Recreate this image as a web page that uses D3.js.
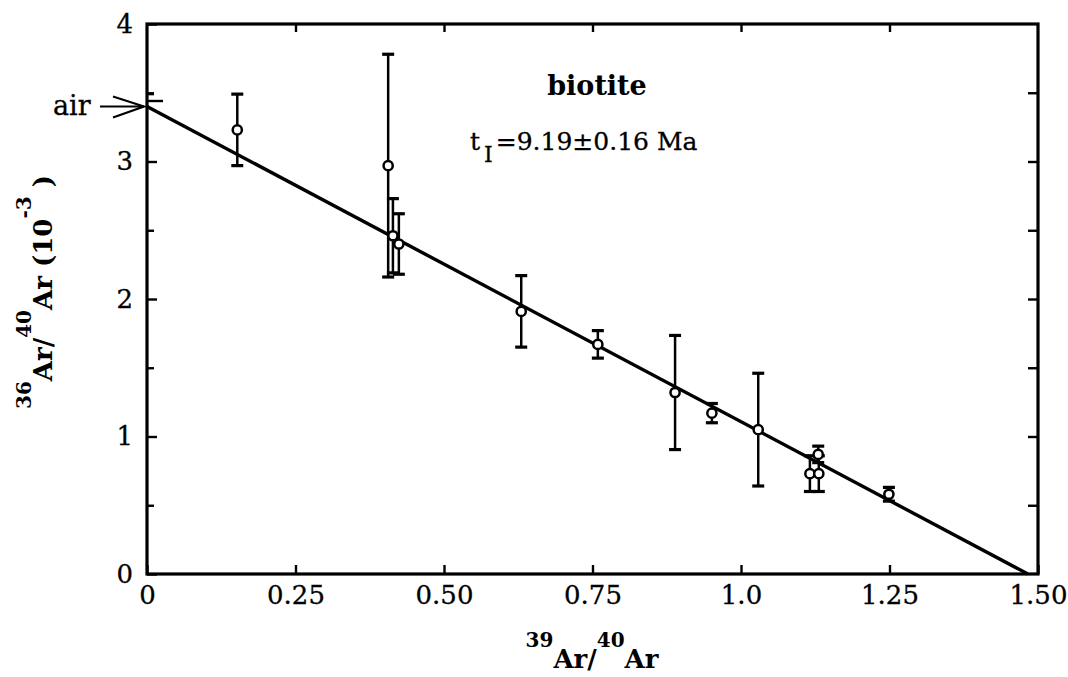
<!DOCTYPE html>
<html>
<head>
<meta charset="UTF-8">
<title>biotite isochron</title>
<style>
  body { margin: 0; background: #fff; }
  svg text { font-family: 'DejaVu Serif', serif; fill: #000; }
</style>
</head>
<body>
<svg id="chart" width="1068" height="677"></svg>
<script src="https://d3js.org/d3.v7.min.js"></script>
<script>
// 39Ar/40Ar (x) and 36Ar/40Ar x 10^-3 (y) with 1-sigma errors on y
const ratio39 = [0.152, 0.406, 0.414, 0.424, 0.630, 0.759, 0.889, 0.951, 1.029, 1.116, 1.131, 1.130, 1.249];
const ratio36 = [3.23, 2.97, 2.46, 2.40, 1.91, 1.67, 1.32, 1.17, 1.05, 0.73, 0.73, 0.87, 0.58];
const err36   = [0.26, 0.81, 0.27, 0.22, 0.26, 0.10, 0.415, 0.07, 0.41, 0.13, 0.13, 0.06, 0.05];

// isochron fit: y intercept (air) and x intercept
const fitYIntercept = 3.40;
const fitXIntercept = 1.483;
const airMarks = [3.49, 3.44];

const xTicks = [0, 0.25, 0.5, 0.75, 1.0, 1.25, 1.5];
const xTickLabels = ["0", "0.25", "0.50", "0.75", "1.0", "1.25", "1.50"];
const yTicks = [0, 1, 2, 3, 4];
const yMinorTicks = [0.5, 1.5, 2.5, 3.5];
const yRightTicks = [0.5, 1, 1.5, 2, 2.5, 3, 3.5];

const svg = d3.select("#chart");
const x = d3.scaleLinear().domain([0, 1.5]).range([147, 1038]);
const y = d3.scaleLinear().domain([0, 4]).range([574, 24]);

function styleAxis(g) {
  g.select(".domain").remove();
  g.selectAll(".tick line").attr("stroke", "#000").attr("stroke-width", 2.4);
  g.selectAll(".tick text").attr("font-family", "'DejaVu Serif', serif").attr("font-size", 26)
    .attr("fill", "#000").attr("stroke", "#000").attr("stroke-width", 0.3);
}

// bottom axis
svg.append("g")
  .attr("transform", `translate(0,${y(0)})`)
  .call(d3.axisBottom(x).tickValues(xTicks).tickSize(-9).tickPadding(12)
    .tickFormat((d, i) => xTickLabels[i]))
  .call(styleAxis);

// top axis (ticks only)
svg.append("g")
  .attr("transform", `translate(0,${y(4)})`)
  .call(d3.axisTop(x).tickValues(xTicks.slice(1, -1)).tickSize(-8).tickFormat(""))
  .call(styleAxis);

// left axis
svg.append("g")
  .attr("transform", `translate(${x(0)},0)`)
  .call(d3.axisLeft(y).tickValues(yTicks).tickSize(-10).tickPadding(14).tickFormat(d3.format("d")))
  .call(styleAxis);
svg.append("g")
  .attr("transform", `translate(${x(0)},0)`)
  .call(d3.axisLeft(y).tickValues(yMinorTicks).tickSize(-7).tickFormat(""))
  .call(styleAxis);

// right axis (ticks only)
svg.append("g")
  .attr("transform", `translate(${x(1.5)},0)`)
  .call(d3.axisRight(y).tickValues(yRightTicks).tickSize(-10).tickFormat(""))
  .call(styleAxis);

// frame
svg.append("rect")
  .attr("x", x(0)).attr("y", y(4))
  .attr("width", x(1.5) - x(0)).attr("height", y(0) - y(4))
  .attr("fill", "none").attr("stroke", "#000").attr("stroke-width", 3.2);

// fitted isochron
svg.append("line")
  .attr("x1", x(0)).attr("y1", y(fitYIntercept))
  .attr("x2", x(fitXIntercept)).attr("y2", y(0))
  .attr("stroke", "#000").attr("stroke-width", 3.4);

// marks at the intercept
svg.selectAll(".airmark").data(airMarks).enter().append("line")
  .attr("class", "airmark")
  .attr("x1", x(0)).attr("x2", (d, i) => x(0) + (i === 0 ? 7 : 16))
  .attr("y1", d => y(d)).attr("y2", d => y(d))
  .attr("stroke", "#000").attr("stroke-width", 2.4);

// data points with error bars
const pts = ratio39.map((v, i) => ({ x: v, y: ratio36[i], e: err36[i] }));
const capW = 6;
const pg = svg.append("g");
const pt = pg.selectAll(".pt").data(pts).enter().append("g").attr("class", "pt");
pt.append("line")
  .attr("x1", d => x(d.x)).attr("x2", d => x(d.x))
  .attr("y1", d => y(d.y + d.e)).attr("y2", d => y(d.y - d.e))
  .attr("stroke", "#000").attr("stroke-width", 2.5);
pt.append("line")
  .attr("x1", d => x(d.x) - capW).attr("x2", d => x(d.x) + capW)
  .attr("y1", d => y(d.y + d.e)).attr("y2", d => y(d.y + d.e))
  .attr("stroke", "#000").attr("stroke-width", 3.2);
pt.append("line")
  .attr("x1", d => x(d.x) - capW).attr("x2", d => x(d.x) + capW)
  .attr("y1", d => y(d.y - d.e)).attr("y2", d => y(d.y - d.e))
  .attr("stroke", "#000").attr("stroke-width", 3.2);
pt.append("circle")
  .attr("cx", d => x(d.x)).attr("cy", d => y(d.y)).attr("r", 4.6)
  .attr("fill", "#fff").attr("stroke", "#000").attr("stroke-width", 2.5);

// air arrow
const ay = y(fitYIntercept);
svg.append("text").attr("x", 53).attr("y", ay + 8).attr("font-size", 27)
  .attr("stroke", "#000").attr("stroke-width", 0.3).text("air");
svg.append("line").attr("x1", 100).attr("x2", x(0) - 3).attr("y1", ay).attr("y2", ay)
  .attr("stroke", "#000").attr("stroke-width", 2.2);
svg.append("path")
  .attr("d", `M113,${ay - 10} L${x(0) - 3},${ay} L113,${ay + 11}`)
  .attr("fill", "none").attr("stroke", "#000").attr("stroke-width", 2.2);

// annotation
svg.append("text").attr("x", 597).attr("y", 95).attr("text-anchor", "middle")
  .attr("font-size", 27).attr("font-weight", "bold").text("biotite");
const age = svg.append("text").attr("x", 470).attr("y", 150).attr("font-size", 25)
  .attr("stroke", "#000").attr("stroke-width", 0.3);
age.append("tspan").text("t");
age.append("tspan").attr("dx", 4).attr("dy", 12).attr("font-size", 22).text("I");
age.append("tspan").attr("dx", 3).attr("dy", -12).text("=9.19±0.16 Ma");

// x axis title
const xt = svg.append("text").attr("x", 592).attr("y", 668).attr("text-anchor", "middle")
  .attr("font-size", 26).attr("font-weight", "bold");
xt.append("tspan").attr("dy", -21).attr("font-size", 20).text("39");
xt.append("tspan").attr("dy", 21).text("Ar/");
xt.append("tspan").attr("dy", -21).attr("font-size", 20).text("40");
xt.append("tspan").attr("dy", 21).text("Ar");

// y axis title
const yt = svg.append("text").attr("transform", "translate(52,292) rotate(-90)")
  .attr("text-anchor", "middle").attr("font-size", 26).attr("font-weight", "bold");
yt.append("tspan").attr("dy", -21).attr("font-size", 20).text("36");
yt.append("tspan").attr("dy", 21).text("Ar/");
yt.append("tspan").attr("dy", -21).attr("font-size", 20).text("40");
yt.append("tspan").attr("dy", 21).text("Ar (10");
yt.append("tspan").attr("dy", -21).attr("font-size", 20).text("-3");
yt.append("tspan").attr("dy", 21).text(" )");
</script>
</body>
</html>
